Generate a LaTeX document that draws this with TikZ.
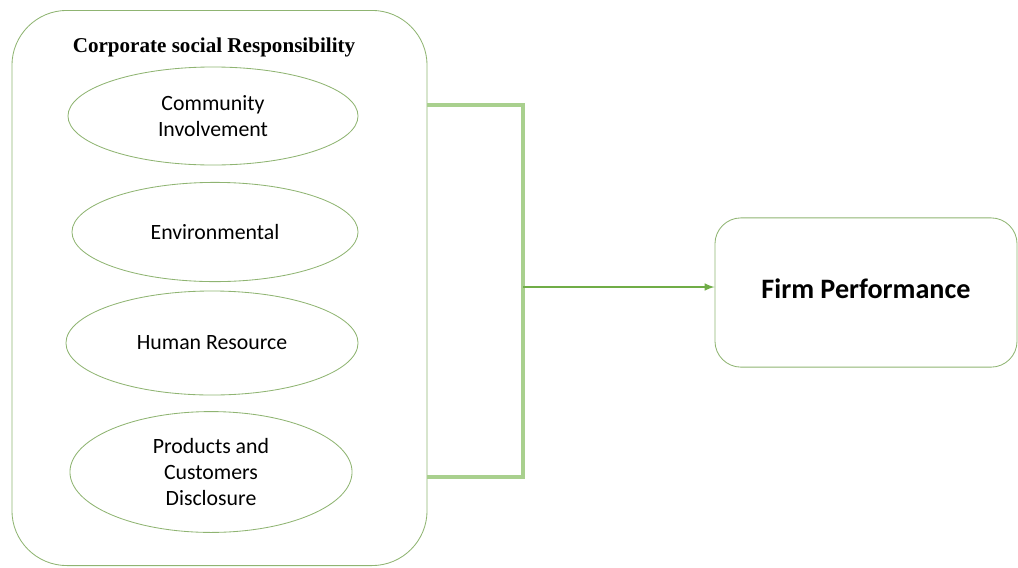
\documentclass[tikz,border=0pt]{standalone}
\usepackage{fontspec}
\setmainfont{Carlito}
\newfontfamily\titlefont{Liberation Serif}
\usetikzlibrary{shapes.geometric}
\definecolor{boxgreen}{HTML}{8FB472}
\definecolor{bracegreen}{HTML}{A9D08E}
\definecolor{arrowgreen}{HTML}{70AD47}

\begin{document}
\begin{tikzpicture}
            [x=0.025cm,y=-0.025cm,
             outer/.style = {draw=boxgreen,rectangle,rounded corners=1.375cm,line width=0.6pt,inner sep=0pt},
             factor/.style = {draw=boxgreen,ellipse,line width=0.6pt,inner sep=0pt,align=center,font=\fontsize{15.5}{18.8}\selectfont},
             brace/.style = {draw=bracegreen,line width=2.2pt},
             link/.style = {draw=arrowgreen,line width=1.4pt,-latex}]
            \useasboundingbox (0,0) rectangle (1018,567);
            \node[outer,minimum width=10.375cm,minimum height=13.875cm] (CSR) at (219.5,288) {};
            \node (CSRTitle) at (214,47) {\titlefont\bfseries\fontsize{15}{18}\selectfont Corporate social Responsibility};
            \node[factor,minimum width=7.25cm,minimum height=2.45cm] (Community) at (213,116) {Community\\Involvement};
            \node[factor,minimum width=7.15cm,minimum height=2.48cm] (Environmental) at (215,232) {Environmental};
            \node[factor,minimum width=7.3cm,minimum height=2.6cm] (HumanResource) at (212,343) {Human Resource};
            \node[factor,minimum width=7.05cm,minimum height=3.02cm] (Products) at (211,472) {Products and\\Customers\\Disclosure};
            \node[draw=boxgreen,rectangle,rounded corners=0.65cm,line width=0.6pt,minimum width=7.55cm,minimum height=3.73cm] (Firm) at (866,292.5) {\raisebox{5pt}{\bfseries\fontsize{20}{24}\selectfont Firm Performance}};

            \coordinate (BraceTop) at (523,105);
            \coordinate (BraceBottom) at (523,477);
            \coordinate (Joint) at (523,287);
            \path[brace] (CSR.east |- BraceTop) -- (BraceTop) -- (BraceBottom) -- (CSR.east |- BraceBottom);
            \path[link] (Joint) -- (Joint -| Firm.west);
        \end{tikzpicture}
\end{document}
